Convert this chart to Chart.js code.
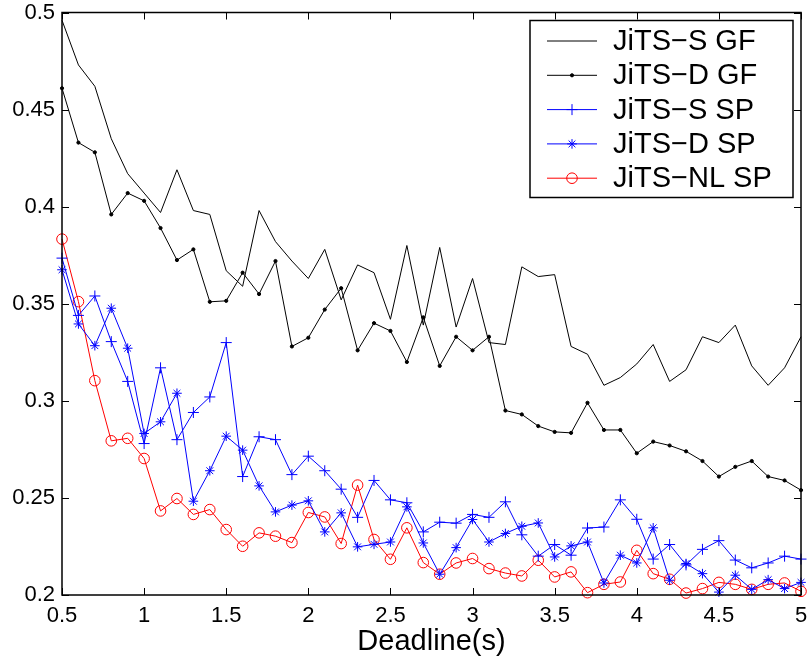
<!DOCTYPE html>
<html>
<head>
<meta charset="utf-8">
<script src="https://cdn.jsdelivr.net/npm/chart.js@4.4.0/dist/chart.umd.min.js"></script>
<style>
  html, body { margin: 0; padding: 0; background: #fff; }
  #chartLine { display: block; }
</style>
</head>
<body>
<canvas id="chartLine" width="810" height="662"></canvas>
<script>
// deadlines in seconds
const deadlines = [0.5, 0.6, 0.7, 0.8, 0.9, 1.0, 1.1, 1.2, 1.3, 1.4,
                   1.5, 1.6, 1.7, 1.8, 1.9, 2.0, 2.1, 2.2, 2.3, 2.4,
                   2.5, 2.6, 2.7, 2.8, 2.9, 3.0, 3.1, 3.2, 3.3, 3.4,
                   3.5, 3.6, 3.7, 3.8, 3.9, 4.0, 4.1, 4.2, 4.3, 4.4,
                   4.5, 4.6, 4.7, 4.8, 4.9, 5.0];

const sGF = [0.496, 0.473, 0.462, 0.435, 0.417, 0.407, 0.397, 0.419, 0.398, 0.396,
             0.367, 0.359, 0.398, 0.382, 0.372, 0.363, 0.378, 0.352, 0.370, 0.366,
             0.342, 0.380, 0.339, 0.379, 0.338, 0.363, 0.330, 0.329, 0.369, 0.364,
             0.365, 0.328, 0.324, 0.308, 0.312, 0.319, 0.329, 0.310, 0.316, 0.333,
             0.330, 0.339, 0.318, 0.308, 0.317, 0.333];

const dGF = [0.461, 0.433, 0.428, 0.396, 0.407, 0.403, 0.389, 0.3725, 0.378, 0.351,
             0.3515, 0.366, 0.355, 0.372, 0.328, 0.3325, 0.347, 0.358, 0.326, 0.340,
             0.336, 0.320, 0.343, 0.318, 0.333, 0.326, 0.333, 0.295, 0.293, 0.287,
             0.284, 0.2835, 0.299, 0.285, 0.285, 0.273, 0.279, 0.277, 0.274, 0.269,
             0.261, 0.266, 0.269, 0.261, 0.259, 0.254];

const sSP = [0.3735, 0.344, 0.354, 0.3305, 0.310, 0.278, 0.317, 0.280, 0.294, 0.302,
             0.330, 0.261, 0.2815, 0.280, 0.262, 0.2715, 0.264, 0.2545, 0.240, 0.259,
             0.249, 0.2475, 0.2325, 0.2375, 0.237, 0.2415, 0.240, 0.248, 0.231, 0.220,
             0.226, 0.2205, 0.2345, 0.235, 0.249, 0.239, 0.2185, 0.226, 0.2155, 0.2235,
             0.228, 0.218, 0.214, 0.2165, 0.220, 0.2185];

const dSP = [0.3675, 0.3396, 0.3284, 0.3477, 0.3271, 0.2832, 0.2892, 0.3039, 0.2483, 0.264,
             0.2818, 0.2746, 0.2562, 0.2428, 0.2463, 0.2485, 0.2325, 0.2423, 0.2248, 0.2261,
             0.2273, 0.2454, 0.2268, 0.2107, 0.2244, 0.2389, 0.2273, 0.2317, 0.2354, 0.2371,
             0.2196, 0.2253, 0.2273, 0.2062, 0.2205, 0.2165, 0.2346, 0.2076, 0.2162, 0.211,
             0.2015, 0.2102, 0.2029, 0.2079, 0.2033, 0.2065];

const nlSP = [0.3833, 0.3511, 0.3104, 0.2794, 0.2807, 0.2703, 0.2433, 0.2497, 0.2415, 0.244,
              0.2337, 0.2251, 0.232, 0.2303, 0.227, 0.2425, 0.2402, 0.2265, 0.2566, 0.2286,
              0.2184, 0.2346, 0.2167, 0.2107, 0.2165, 0.2188, 0.2136, 0.2113, 0.2098, 0.2179,
              0.2093, 0.2119, 0.2012, 0.2055, 0.2067, 0.223, 0.211, 0.2081, 0.201, 0.2033,
              0.2065, 0.2055, 0.2029, 0.2055, 0.2062, 0.2019];

const xTicks = [0.5, 1, 1.5, 2, 2.5, 3, 3.5, 4, 4.5, 5];
const xTickLabels = ["0.5", "1", "1.5", "2", "2.5", "3", "3.5", "4", "4.5", "5"];
const yTicks = [0.2, 0.25, 0.3, 0.35, 0.4, 0.45, 0.5];
const yTickLabels = ["0.2", "0.25", "0.3", "0.35", "0.4", "0.45", "0.5"];

const FONT = '"Liberation Sans", Arial, Helvetica, sans-serif';

function pts(values) {
  return deadlines.map((d, i) => ({ x: d, y: values[i] }));
}

function series(label, values, color, pointStyle, radius, fill) {
  return {
    label: label,
    data: pts(values),
    borderColor: color,
    backgroundColor: fill,
    borderWidth: 1,
    pointStyle: pointStyle,
    pointRadius: radius,
    pointBorderWidth: 1,
    pointBorderColor: color,
    pointBackgroundColor: fill,
    tension: 0,
    clip: false,
  };
}

// box, inward ticks on all four sides and the legend inside the plot
const frame = {
  id: 'frame',
  afterDraw(chart) {
    const { ctx, chartArea: a, scales: { x, y } } = chart;
    ctx.save();
    ctx.strokeStyle = '#000';
    ctx.lineWidth = 1;
    ctx.beginPath();
    x.ticks.forEach(t => {
      const px = Math.round(x.getPixelForValue(t.value)) + 0.5;
      ctx.moveTo(px, a.bottom); ctx.lineTo(px, a.bottom - 7);
      ctx.moveTo(px, a.top); ctx.lineTo(px, a.top + 7);
    });
    y.ticks.forEach(t => {
      const py = Math.round(y.getPixelForValue(t.value)) + 0.5;
      ctx.moveTo(a.left, py); ctx.lineTo(a.left + 7, py);
      ctx.moveTo(a.right, py); ctx.lineTo(a.right - 7, py);
    });
    ctx.stroke();
    ctx.lineWidth = 1.5;
    ctx.strokeRect(a.left, a.top, a.right - a.left, a.bottom - a.top);

    // legend
    const bx = a.right - 271, by = a.top + 8, bw = 263, bh = 177;
    ctx.fillStyle = '#fff';
    ctx.fillRect(bx, by, bw, bh);
    ctx.strokeRect(bx, by, bw, bh);
    ctx.font = '29px ' + FONT;
    ctx.textBaseline = 'middle';
    ctx.textAlign = 'left';
    chart.data.datasets.forEach((ds, i) => {
      const cy = by + 20.5 + i * 34.3;
      ctx.strokeStyle = ds.borderColor;
      ctx.lineWidth = 1;
      ctx.beginPath();
      ctx.moveTo(bx + 17, cy);
      ctx.lineTo(bx + 67, cy);
      ctx.stroke();
      if (ds.pointRadius > 0) {
        ctx.fillStyle = ds.pointBackgroundColor;
        Chart.helpers.drawPoint(ctx, {
          pointStyle: ds.pointStyle, radius: ds.pointRadius, rotation: 0, borderWidth: 1
        }, bx + 42, cy);
      }
      ctx.fillStyle = '#000';
      ctx.fillText(ds.label, bx + 83, cy + 1);
    });
    ctx.restore();
  }
};

new Chart(document.getElementById('chartLine'), {
  type: 'line',
  data: {
    datasets: [
      series('JiTS\u2212S GF', sGF, '#000000', false, 0, '#000000'),
      series('JiTS\u2212D GF', dGF, '#000000', 'circle', 1.6, '#000000'),
      series('JiTS\u2212S SP', sSP, '#0000ff', 'cross', 5.5, '#0000ff'),
      series('JiTS\u2212D SP', dSP, '#0000ff', 'star', 4.8, '#0000ff'),
      series('JiTS\u2212NL SP', nlSP, '#ff0000', 'circle', 5.3, 'rgba(0,0,0,0)'),
    ]
  },
  options: {
    responsive: false,
    animation: false,
    events: [],
    layout: { padding: { left: 0, right: 9, top: 12.5, bottom: 0 } },
    plugins: {
      legend: { display: false },
      tooltip: { enabled: false },
    },
    scales: {
      x: {
        type: 'linear',
        min: 0.5,
        max: 5,
        afterBuildTicks: s => { s.ticks = xTicks.map(v => ({ value: v })); },
        afterFit: s => { s.height = 67; s.paddingLeft = 0; s.paddingRight = 0; },
        grid: { display: false, drawTicks: false },
        border: { display: false },
        ticks: {
          padding: 8,
          color: '#000',
          font: { family: FONT, size: 22 },
          maxRotation: 0,
          autoSkip: false,
          callback: (v, i) => xTickLabels[i],
        },
        title: {
          display: true,
          text: 'Deadline(s)',
          color: '#000',
          font: { family: FONT, size: 29 },
          padding: { top: 0, bottom: 3 },
        },
      },
      y: {
        min: 0.2,
        max: 0.5,
        afterBuildTicks: s => { s.ticks = yTicks.map(v => ({ value: v })); },
        afterFit: s => { s.width = 62; s.paddingTop = 0; s.paddingBottom = 0; },
        grid: { display: false, drawTicks: false },
        border: { display: false },
        ticks: {
          padding: 7,
          color: '#000',
          font: { family: FONT, size: 22 },
          autoSkip: false,
          callback: (v, i) => yTickLabels[i],
        },
      },
    },
  },
  plugins: [frame],
});
</script>
</body>
</html>
